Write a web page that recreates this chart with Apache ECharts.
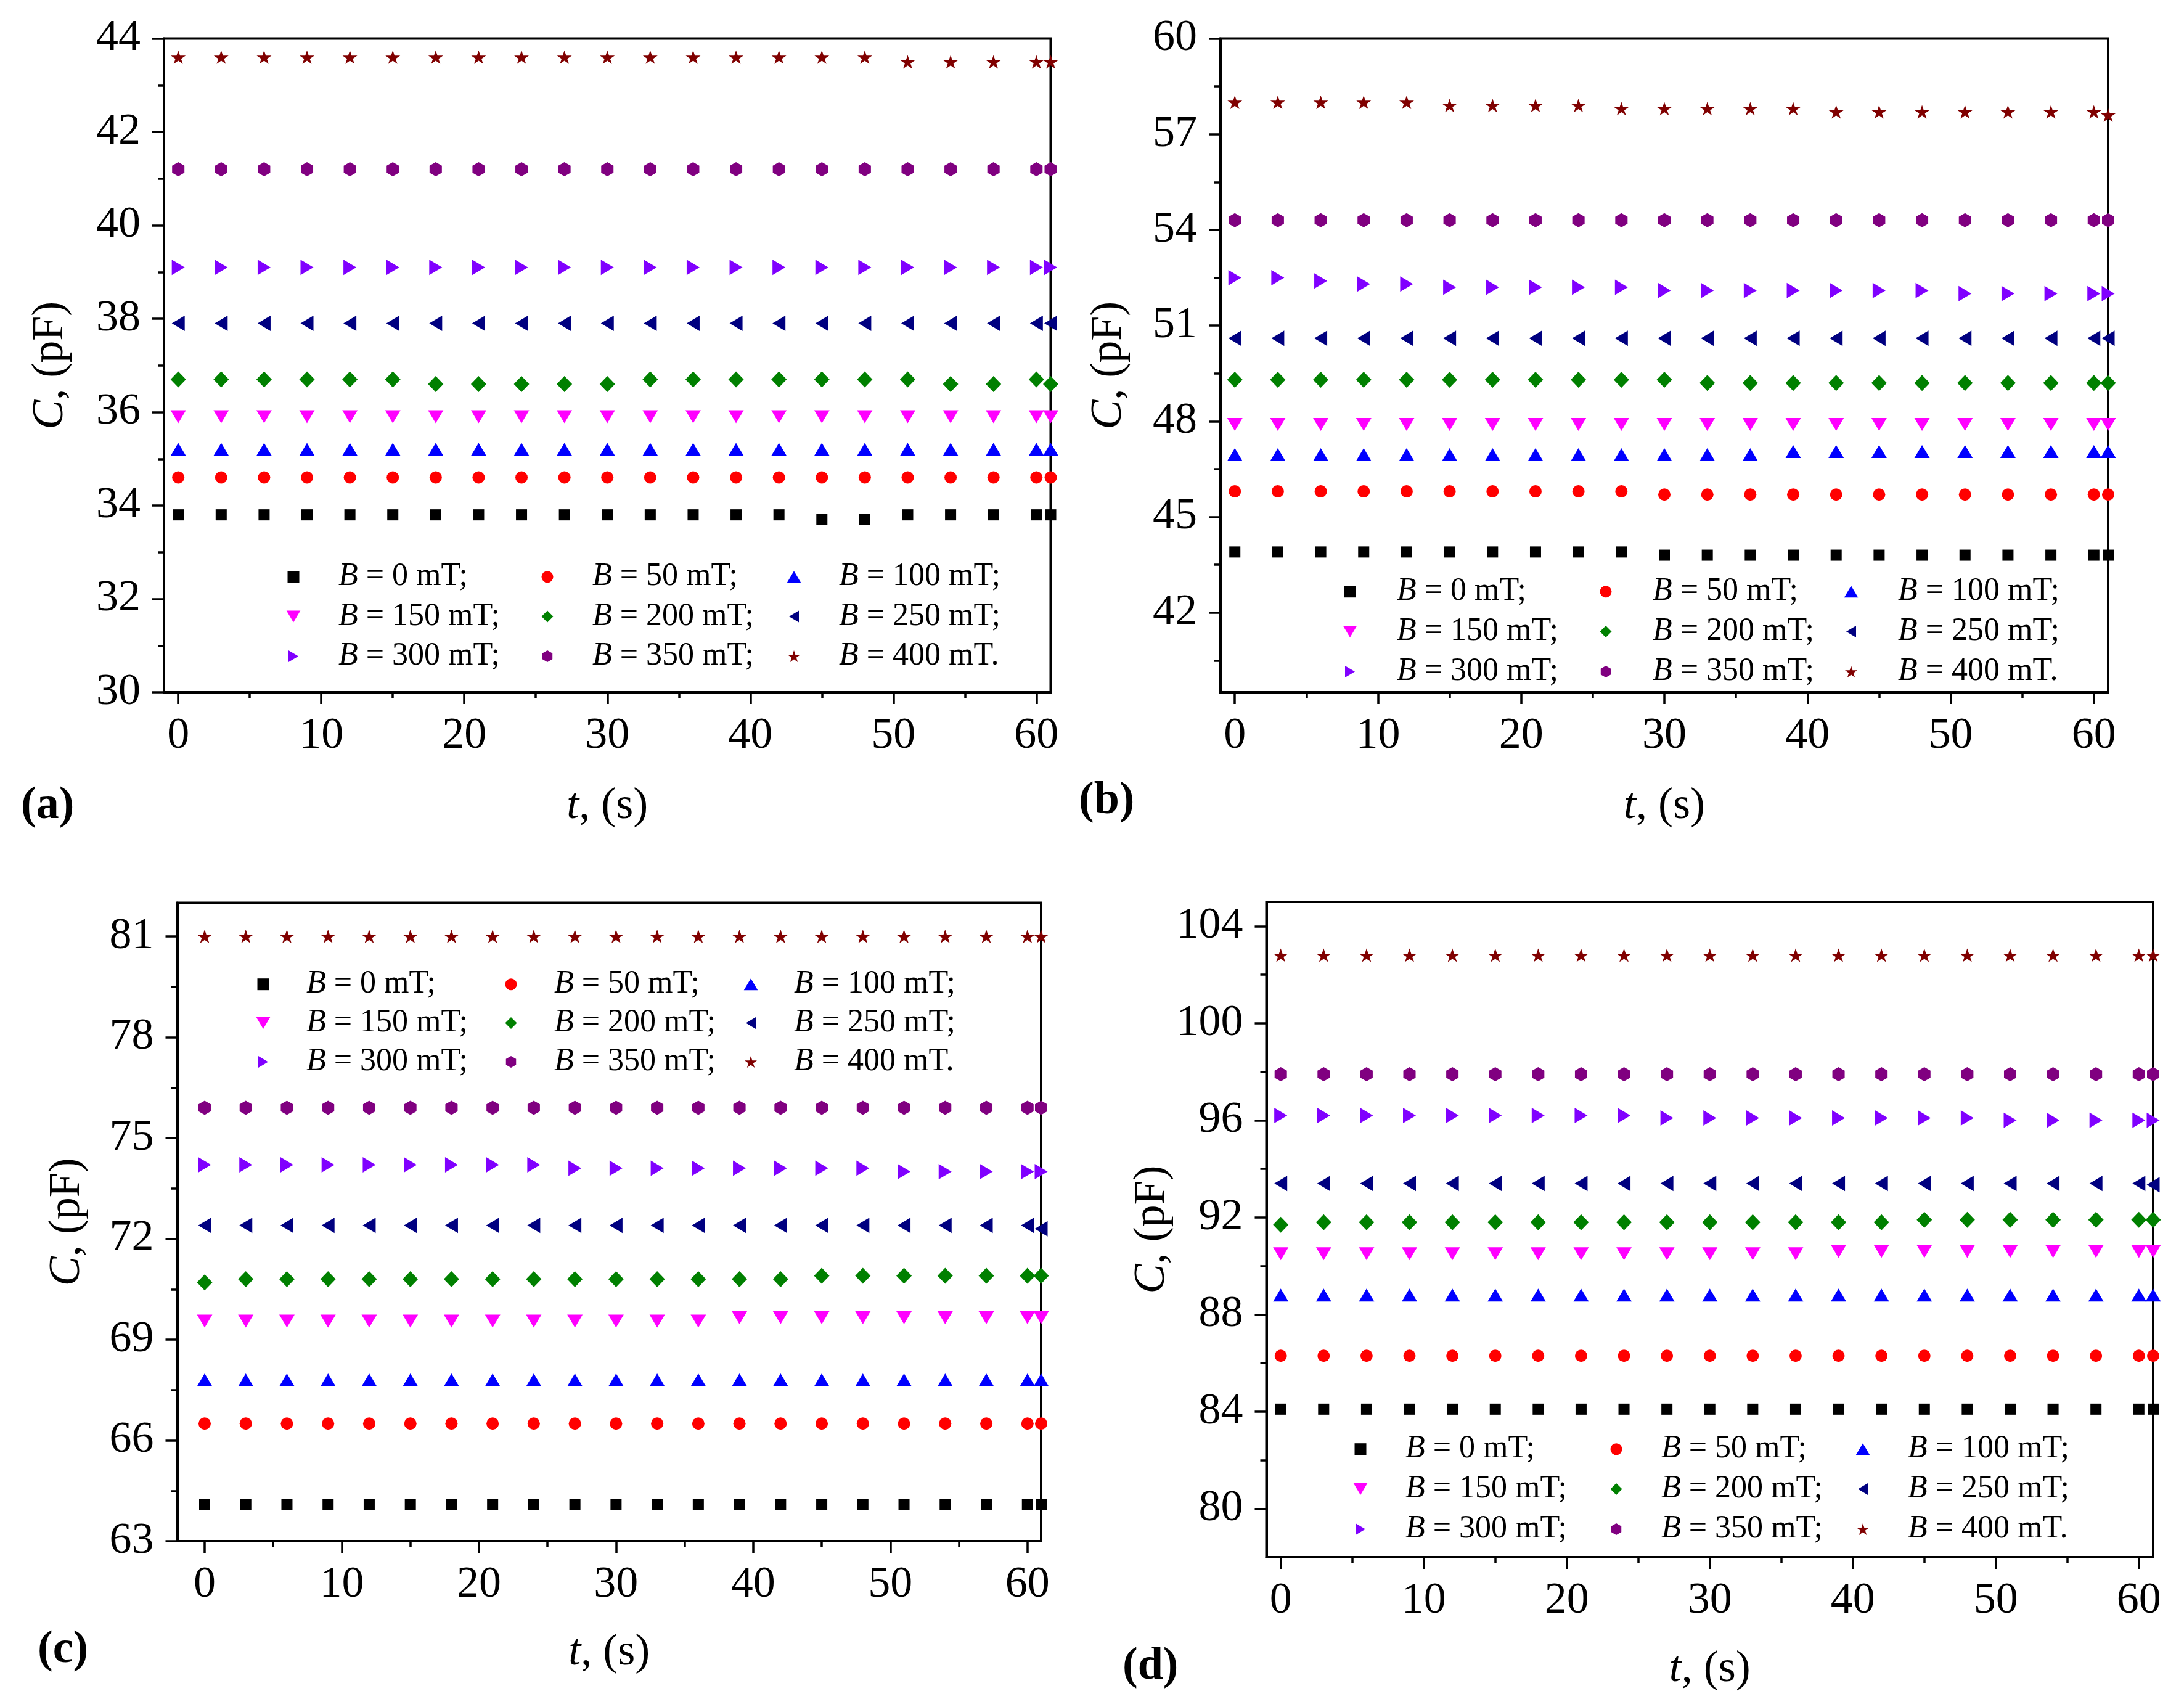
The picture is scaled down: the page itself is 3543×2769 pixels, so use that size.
<!DOCTYPE html>
<html>
<head>
<meta charset="utf-8">
<script src="https://cdn.jsdelivr.net/npm/echarts@6/dist/echarts.min.js"></script>
<style>
html,body{margin:0;padding:0;background:#ffffff;}
#chart{width:3543px;height:2769px;}
</style>
</head>
<body>
<div id="chart"></div>
<script>
// ---------------- DATA ----------------
const T = [0,3,6,9,12,15,18,21,24,27,30,33,36,39,42,45,48,51,54,57,60,61];

const FIELD_NAMES = ['0 mT;','50 mT;','100 mT;','150 mT;','200 mT;','250 mT;','300 mT;','350 mT;','400 mT.'];

// panel (a)
const A_B0   = [33.8,33.8,33.8,33.8,33.8,33.8,33.8,33.8,33.8,33.8,33.8, 33.8,33.8,33.8,33.8,33.7,33.7,33.8,33.8,33.8,33.8,33.8];
const A_B50  = [34.6,34.6,34.6,34.6,34.6,34.6,34.6,34.6,34.6,34.6,34.6, 34.6,34.6,34.6,34.6,34.6,34.6,34.6,34.6,34.6,34.6,34.6];
const A_B100 = [35.2,35.2,35.2,35.2,35.2,35.2,35.2,35.2,35.2,35.2,35.2, 35.2,35.2,35.2,35.2,35.2,35.2,35.2,35.2,35.2,35.2,35.2];
const A_B150 = [35.9,35.9,35.9,35.9,35.9,35.9,35.9,35.9,35.9,35.9,35.9, 35.9,35.9,35.9,35.9,35.9,35.9,35.9,35.9,35.9,35.9,35.9];
const A_B200 = [36.7,36.7,36.7,36.7,36.7,36.7,36.6,36.6,36.6,36.6,36.6, 36.7,36.7,36.7,36.7,36.7,36.7,36.7,36.6,36.6,36.7,36.6];
const A_B250 = [37.9,37.9,37.9,37.9,37.9,37.9,37.9,37.9,37.9,37.9,37.9, 37.9,37.9,37.9,37.9,37.9,37.9,37.9,37.9,37.9,37.9,37.9];
const A_B300 = [39.1,39.1,39.1,39.1,39.1,39.1,39.1,39.1,39.1,39.1,39.1, 39.1,39.1,39.1,39.1,39.1,39.1,39.1,39.1,39.1,39.1,39.1];
const A_B350 = [41.2,41.2,41.2,41.2,41.2,41.2,41.2,41.2,41.2,41.2,41.2, 41.2,41.2,41.2,41.2,41.2,41.2,41.2,41.2,41.2,41.2,41.2];
const A_B400 = [43.6,43.6,43.6,43.6,43.6,43.6,43.6,43.6,43.6,43.6,43.6, 43.6,43.6,43.6,43.6,43.6,43.6,43.5,43.5,43.5,43.5,43.5];

// panel (b)
const B_B0   = [43.9,43.9,43.9,43.9,43.9,43.9,43.9,43.9,43.9,43.9,43.8, 43.8,43.8,43.8,43.8,43.8,43.8,43.8,43.8,43.8,43.8,43.8];
const B_B50  = [45.8,45.8,45.8,45.8,45.8,45.8,45.8,45.8,45.8,45.8,45.7, 45.7,45.7,45.7,45.7,45.7,45.7,45.7,45.7,45.7,45.7,45.7];
const B_B100 = [46.95,46.95,46.95,46.95,46.95,46.95,46.95,46.95,46.95,46.95,46.95, 46.95,46.95,47.05,47.05,47.05,47.05,47.05,47.05,47.05,47.05,47.05];
const B_B150 = [47.9,47.9,47.9,47.9,47.9,47.9,47.9,47.9,47.9,47.9,47.9, 47.9,47.9,47.9,47.9,47.9,47.9,47.9,47.9,47.9,47.9,47.9];
const B_B200 = [49.3,49.3,49.3,49.3,49.3,49.3,49.3,49.3,49.3,49.3,49.3, 49.2,49.2,49.2,49.2,49.2,49.2,49.2,49.2,49.2,49.2,49.2];
const B_B250 = [50.6,50.6,50.6,50.6,50.6,50.6,50.6,50.6,50.6,50.6,50.6, 50.6,50.6,50.6,50.6,50.6,50.6,50.6,50.6,50.6,50.6,50.6];
const B_B300 = [52.5,52.5,52.4,52.3,52.3,52.2,52.2,52.2,52.2,52.2,52.1, 52.1,52.1,52.1,52.1,52.1,52.1,52.0,52.0,52.0,52.0,52.0];
const B_B350 = [54.3,54.3,54.3,54.3,54.3,54.3,54.3,54.3,54.3,54.3,54.3, 54.3,54.3,54.3,54.3,54.3,54.3,54.3,54.3,54.3,54.3,54.3];
const B_B400 = [58.0,58.0,58.0,58.0,58.0,57.9,57.9,57.9,57.9,57.8,57.8, 57.8,57.8,57.8,57.7,57.7,57.7,57.7,57.7,57.7,57.7,57.6];

// panel (c)
const C_B0   = [64.1,64.1,64.1,64.1,64.1,64.1,64.1,64.1,64.1,64.1,64.1, 64.1,64.1,64.1,64.1,64.1,64.1,64.1,64.1,64.1,64.1,64.1];
const C_B50  = [66.5,66.5,66.5,66.5,66.5,66.5,66.5,66.5,66.5,66.5,66.5, 66.5,66.5,66.5,66.5,66.5,66.5,66.5,66.5,66.5,66.5,66.5];
const C_B100 = [67.8,67.8,67.8,67.8,67.8,67.8,67.8,67.8,67.8,67.8,67.8, 67.8,67.8,67.8,67.8,67.8,67.8,67.8,67.8,67.8,67.8,67.8];
const C_B150 = [69.55,69.55,69.55,69.55,69.55,69.55,69.55,69.55,69.55,69.55,69.55, 69.55,69.55,69.65,69.65,69.65,69.65,69.65,69.65,69.65,69.65,69.65];
const C_B200 = [70.7,70.8,70.8,70.8,70.8,70.8,70.8,70.8,70.8,70.8,70.8, 70.8,70.8,70.8,70.8,70.9,70.9,70.9,70.9,70.9,70.9,70.9];
const C_B250 = [72.4,72.4,72.4,72.4,72.4,72.4,72.4,72.4,72.4,72.4,72.4, 72.4,72.4,72.4,72.4,72.4,72.4,72.4,72.4,72.4,72.4,72.3];
const C_B300 = [74.2,74.2,74.2,74.2,74.2,74.2,74.2,74.2,74.2,74.1,74.1, 74.1,74.1,74.1,74.1,74.1,74.1,74.0,74.0,74.0,74.0,74.0];
const C_B350 = [75.9,75.9,75.9,75.9,75.9,75.9,75.9,75.9,75.9,75.9,75.9, 75.9,75.9,75.9,75.9,75.9,75.9,75.9,75.9,75.9,75.9,75.9];
const C_B400 = [81.0,81.0,81.0,81.0,81.0,81.0,81.0,81.0,81.0,81.0,81.0, 81.0,81.0,81.0,81.0,81.0,81.0,81.0,81.0,81.0,81.0,81.0];

// panel (d)
const D_B0   = [84.1,84.1,84.1,84.1,84.1,84.1,84.1,84.1,84.1,84.1,84.1, 84.1,84.1,84.1,84.1,84.1,84.1,84.1,84.1,84.1,84.1,84.1];
const D_B50  = [86.3,86.3,86.3,86.3,86.3,86.3,86.3,86.3,86.3,86.3,86.3, 86.3,86.3,86.3,86.3,86.3,86.3,86.3,86.3,86.3,86.3,86.3];
const D_B100 = [88.8,88.8,88.8,88.8,88.8,88.8,88.8,88.8,88.8,88.8,88.8, 88.8,88.8,88.8,88.8,88.8,88.8,88.8,88.8,88.8,88.8,88.8];
const D_B150 = [90.5,90.5,90.5,90.5,90.5,90.5,90.5,90.5,90.5,90.5,90.5, 90.5,90.5,90.6,90.6,90.6,90.6,90.6,90.6,90.6,90.6,90.6];
const D_B200 = [91.7,91.8,91.8,91.8,91.8,91.8,91.8,91.8,91.8,91.8,91.8, 91.8,91.8,91.8,91.8,91.9,91.9,91.9,91.9,91.9,91.9,91.9];
const D_B250 = [93.4,93.4,93.4,93.4,93.4,93.4,93.4,93.4,93.4,93.4,93.4, 93.4,93.4,93.4,93.4,93.4,93.4,93.4,93.4,93.4,93.4,93.35];
const D_B300 = [96.2,96.2,96.2,96.2,96.2,96.2,96.2,96.2,96.2,96.1,96.1, 96.1,96.1,96.1,96.1,96.1,96.1,96.0,96.0,96.0,96.0,96.0];
const D_B350 = [97.9,97.9,97.9,97.9,97.9,97.9,97.9,97.9,97.9,97.9,97.9, 97.9,97.9,97.9,97.9,97.9,97.9,97.9,97.9,97.9,97.9,97.9];
const D_B400 = [102.8,102.8,102.8,102.8,102.8,102.8,102.8,102.8,102.8,102.8,102.8, 102.8,102.8,102.8,102.8,102.8,102.8,102.8,102.8,102.8,102.8,102.8];

// tick labels
const X_TICKS = [0,10,20,30,40,50,60];
const X_MINOR = [5,15,25,35,45,55];
const A_YTICKS = [30,32,34,36,38,40,42,44];
const A_YMINOR = [31,33,35,37,39,41,43];
const B_YTICKS = [42,45,48,51,54,57,60];
const B_YMINOR = [40.5,43.5,46.5,49.5,52.5,55.5,58.5];
const C_YTICKS = [63,66,69,72,75,78,81];
const C_YMINOR = [64.5,67.5,70.5,73.5,76.5,79.5];
const D_YTICKS = [80,84,88,92,96,100,104];
const D_YMINOR = [82,86,90,94,98,102];

// ---------------- STYLE ----------------
const FONT = '"Liberation Serif", "Times New Roman", serif';
const COLORS = ['#000000','#FF0000','#0000FF','#FF00FF','#008000','#000080','#8000FF','#800080','#800000'];
const P_SQUARE = 'path://M0,0 L1,0 L1,1 L0,1 Z';
const P_DIAMOND = 'path://M0.5,0 L1,0.5 L0.5,1 L0,0.5 Z';
const P_UP = 'path://M0.5,0 L1,0.84 L0,0.84 Z';
const P_DOWN = 'path://M0,0 L1,0 L0.5,0.84 Z';
const P_LEFT = 'path://M0.84,0 L0.84,1 L0,0.5 Z';
const P_RIGHT = 'path://M0,0 L0.84,0.5 L0,1 Z';
const P_HEX = 'path://M0,-1 L0.866,-0.5 L0.866,0.5 L0,1 L-0.866,0.5 L-0.866,-0.5 Z';
const P_STAR = 'path://M0,-1 L0.2245,-0.309 L0.951,-0.309 L0.363,0.118 L0.588,0.809 L0,0.382 L-0.588,0.809 L-0.363,0.118 L-0.951,-0.309 L-0.2245,-0.309 Z';
const SYMBOLS = [P_SQUARE,'circle',P_UP,P_DOWN,P_DIAMOND,P_LEFT,P_RIGHT,P_HEX,P_STAR];
const SIZES = [18,20,[25,21],[25,21],[25,26],[21,25],[21,25],[20,23],[24,22]];

const LEG_FONT = 52;
const LEG_TEXT_H = 52.6;
const LEG_ICON_H = 19;
const LEG_COL_HALF = [11.3, 9.5, 11.3]; // half width of the widest legend icon per column

const PANELS = [
  { letter:'(a)', lx:34, ly:1308, grid:{left:266, top:62.5, width:1438.5, height:1060.5},
    xMin:-1, xMax:61, yMin:30, yMax:44, yTicks:A_YTICKS, yMinor:A_YMINOR,
    series:[A_B0,A_B50,A_B100,A_B150,A_B200,A_B250,A_B300,A_B350,A_B400],
    yNameGap:148, xNameGap:149, legCols:[476,888,1288], legTop:936, legPitch:65, legW:136 },
  { letter:'(b)', lx:1750, ly:1300, grid:{left:1980, top:62.5, width:1440, height:1060.5},
    xMin:-1, xMax:61, yMin:39.5, yMax:60, yTicks:B_YTICKS, yMinor:B_YMINOR,
    series:[B_B0,B_B50,B_B100,B_B150,B_B200,B_B250,B_B300,B_B350,B_B400],
    yNameGap:145, xNameGap:149, legCols:[2190,2605,3003], legTop:960, legPitch:65.5, legW:142 },
  { letter:'(c)', lx:61, ly:2677, grid:{left:287.5, top:1464.5, width:1401.5, height:1035.5},
    xMin:-2, xMax:61, yMin:63, yMax:82, yTicks:C_YTICKS, yMinor:C_YMINOR,
    series:[C_B0,C_B50,C_B100,C_B150,C_B200,C_B250,C_B300,C_B350,C_B400],
    yNameGap:142, xNameGap:145, legCols:[427,829,1218], legTop:1597, legPitch:63.5, legW:130 },
  { letter:'(d)', lx:1821, ly:2704, grid:{left:2054.5, top:1463, width:1438.5, height:1063},
    xMin:-1, xMax:61, yMin:78, yMax:105, yTicks:D_YTICKS, yMinor:D_YMINOR,
    series:[D_B0,D_B50,D_B100,D_B150,D_B200,D_B250,D_B300,D_B350,D_B400],
    yNameGap:143, xNameGap:146, legCols:[2207,2622,3022], legTop:2351, legPitch:65.5, legW:136 }
];

// ---------------- OPTION ----------------
const grids = [], xAxes = [], yAxes = [], series = [], legends = [], graphics = [];
const tickStyle = {color:'#000', width:3.5};
const nameStyle = {fontFamily:FONT, fontSize:72, color:'#000', rich:{i:{fontFamily:FONT, fontSize:72, fontStyle:'italic', color:'#000'}}};

PANELS.forEach((p, k) => {
  const gMain = 2*k, gMinor = 2*k+1;
  grids.push(Object.assign({show:true, borderColor:'#000', borderWidth:4, backgroundColor:'transparent', containLabel:false}, p.grid));
  grids.push(Object.assign({show:false, containLabel:false}, p.grid));

  xAxes.push({
    gridIndex:gMain, type:'value', min:p.xMin, max:p.xMax,
    axisLine:{show:true, onZero:false, lineStyle:{color:'#000', width:4}},
    axisTick:{show:true, inside:false, length:19, lineStyle:tickStyle, customValues:X_TICKS},
    axisLabel:{show:true, customValues:X_TICKS, margin:35, fontFamily:FONT, fontSize:72, color:'#000'},
    splitLine:{show:false},
    name:'{i|t}, (s)', nameLocation:'middle', nameGap:p.xNameGap, nameTextStyle:nameStyle
  });
  xAxes.push({
    gridIndex:gMinor, type:'value', min:p.xMin, max:p.xMax,
    axisLine:{show:false, onZero:false},
    axisTick:{show:true, inside:false, length:10, lineStyle:tickStyle, customValues:X_MINOR},
    axisLabel:{show:false, customValues:X_MINOR},
    splitLine:{show:false}
  });
  yAxes.push({
    gridIndex:gMain, type:'value', min:p.yMin, max:p.yMax,
    axisLine:{show:true, onZero:false, lineStyle:{color:'#000', width:4}},
    axisTick:{show:true, inside:false, length:19, lineStyle:tickStyle, customValues:p.yTicks},
    axisLabel:{show:true, customValues:p.yTicks, margin:38, fontFamily:FONT, fontSize:72, color:'#000'},
    splitLine:{show:false},
    name:'{i|C}, (pF)', nameLocation:'middle', nameGap:p.yNameGap, nameTextStyle:nameStyle
  });
  yAxes.push({
    gridIndex:gMinor, type:'value', min:p.yMin, max:p.yMax,
    axisLine:{show:false, onZero:false},
    axisTick:{show:true, inside:false, length:10, lineStyle:tickStyle, customValues:p.yMinor},
    axisLabel:{show:false, customValues:p.yMinor},
    splitLine:{show:false}
  });

  p.series.forEach((vals, j) => {
    series.push({
      type:'scatter', name:FIELD_NAMES[j], xAxisIndex:gMain, yAxisIndex:gMain,
      data:T.map((t, i) => [t, vals[i]]),
      symbol:SYMBOLS[j], symbolSize:SIZES[j],
      itemStyle:{color:COLORS[j], opacity:1},
      emphasis:{disabled:true}, silent:true, z:3
    });
  });

  p.legCols.forEach((cx, c) => {
    legends.push({
      orient:'vertical', left:cx - LEG_COL_HALF[c], top:p.legTop - LEG_TEXT_H/2, padding:0,
      itemWidth:p.legW, itemHeight:LEG_ICON_H, itemGap:p.legPitch - LEG_TEXT_H,
      selectedMode:false,
      data:[c, c+3, c+6].map(j => ({name:FIELD_NAMES[j], icon:SYMBOLS[j]})),
      formatter: n => '{i|B}{r| = ' + n + '}',
      textStyle:{fontFamily:FONT, fontSize:LEG_FONT, color:'#000',
        rich:{i:{fontFamily:FONT, fontSize:LEG_FONT, fontStyle:'italic', color:'#000'},
              r:{fontFamily:FONT, fontSize:LEG_FONT, color:'#000'}}}
    });
  });

  graphics.push({type:'text', x:p.lx, y:p.ly, style:{text:p.letter, fontFamily:FONT, fontSize:74, fontWeight:'bold', fill:'#000', verticalAlign:'middle', align:'left'}});
});

const chart = echarts.init(document.getElementById('chart'), null, {renderer:'canvas'});
chart.setOption({
  animation:false,
  backgroundColor:'#ffffff',
  grid:grids, xAxis:xAxes, yAxis:yAxes, series:series, legend:legends, graphic:graphics
});
</script>
</body>
</html>
